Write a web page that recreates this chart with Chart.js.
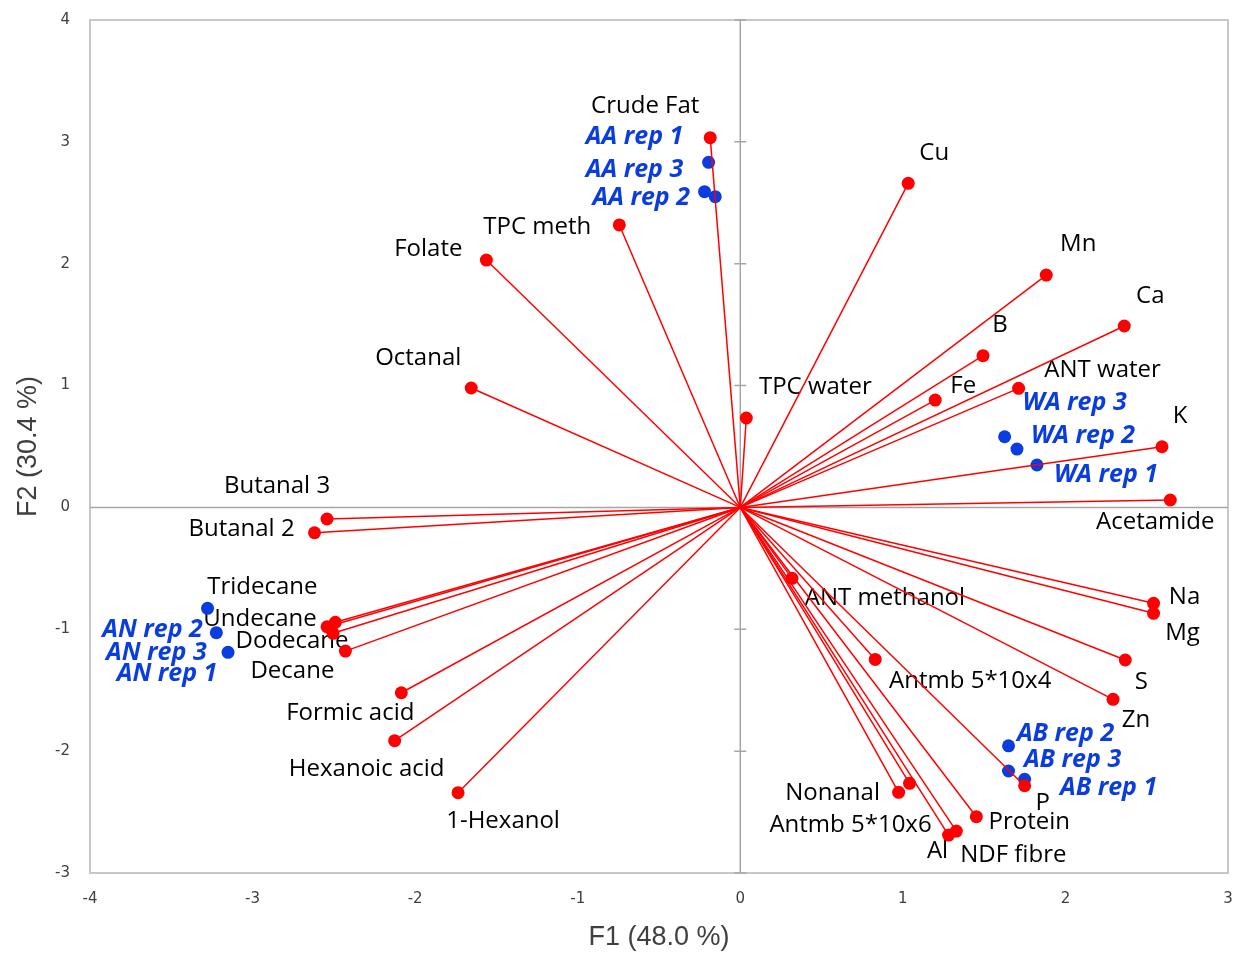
<!DOCTYPE html>
<html>
<head>
<meta charset="utf-8">
<script src="https://cdn.jsdelivr.net/npm/chart.js@4.4.1/dist/chart.umd.min.js"></script>
<style>
  html, body { margin: 0; padding: 0; background: #fff; }
  #wrap { width: 1236px; height: 954px; }
</style>
</head>
<body>
<div id="wrap"><canvas id="biplot" width="1236" height="954"></canvas></div>
<script>
// variables (red vectors)
const varNames = ['Crude Fat', 'Cu', 'TPC meth', 'Folate', 'Mn', 'Ca', 'B', 'Octanal', 'ANT water', 'Fe',
  'TPC water', 'K', 'Acetamide', 'Butanal 3', 'Butanal 2', 'Tridecane', 'Undecane', 'Dodecane', 'Decane',
  'ANT methanol', 'Na', 'Mg', 'S', 'Zn', 'Antmb 5*10x4', 'Formic acid', 'Hexanoic acid', '1-Hexanol',
  'P', 'Nonanal', 'Antmb 5*10x6', 'Protein', 'Al', 'NDF fibre'];
const varF1 = [-0.185, 1.033, -0.744, -1.562, 1.882, 2.362, 1.493, -1.655, 1.712, 1.199,
  0.037, 2.594, 2.645, -2.542, -2.619, -2.491, -2.542, -2.505, -2.429,
  0.318, 2.542, 2.542, 2.368, 2.293, 0.830, -2.085, -2.126, -1.736,
  1.749, 0.974, 1.041, 1.452, 1.281, 1.329];
const varF2 = [3.034, 2.660, 2.318, 2.030, 1.907, 1.489, 1.245, 0.980, 0.977, 0.881,
  0.734, 0.498, 0.061, -0.095, -0.208, -0.943, -0.979, -1.033, -1.179,
  -0.582, -0.787, -0.869, -1.252, -1.575, -1.247, -1.521, -1.914, -2.341,
  -2.284, -2.338, -2.264, -2.538, -2.689, -2.656];

// observations (blue)
const obsNames = ['AA rep 1', 'AA rep 3', 'AA rep 2', 'WA rep 3', 'WA rep 2', 'WA rep 1',
  'AN rep 2', 'AN rep 3', 'AN rep 1', 'AB rep 2', 'AB rep 3', 'AB rep 1'];
const obsF1 = [-0.195, -0.220, -0.154, 1.626, 1.702, 1.825, -3.277, -3.223, -3.151, 1.650, 1.650, 1.749];
const obsF2 = [2.832, 2.591, 2.550, 0.580, 0.479, 0.348, -0.828, -1.028, -1.189, -1.956, -2.163, -2.231];

const xTicks = [-4, -3, -2, -1, 0, 1, 2, 3];
const yTicks = [-3, -2, -1, 0, 1, 2, 3, 4];

// label placement (pixel offset of label centre from its point)
const varLabelOffsets = [[-65,-32],[26,-30],[-82,2],[-58,-11],[32,-31],[26,-30],[17,-31],[-53,-30],[84,-18],[28,-14],
  [69,-31],[18,-31],[-15,22],[-50,-33],[-73,-4],[-73,-35],[-67,-8],[-41,8],[-53,20],
  [93,20],[31,-6],[29,20],[16,22],[23,21],[95,22],[-51,20],[-28,28],[45,28],
  [18,17],[-66,1],[-59,42],[53,5],[-11,16],[57,24]];
const obsLabelOffsets = [[-74,-25],[-70,-22],[-74,1],[70,-34],[66,-13],[69,10],
  [-55,22],[-60,20],[-61,22],[57,-12],[64,-11],[84,9]];

const RED = '#ff0000';
const BLUE = '#0a3de0';

const vectorSets = varNames.map((n, i) => ({
  label: n,
  data: [{ x: 0, y: 0 }, { x: varF1[i], y: varF2[i] }],
  showLine: true,
  borderColor: RED,
  borderWidth: 1.5,
  pointRadius: 0,
  pointHoverRadius: 0
}));

const redPoints = {
  label: 'variables',
  data: varNames.map((n, i) => ({ x: varF1[i], y: varF2[i] })),
  backgroundColor: RED,
  borderWidth: 0,
  pointRadius: 6.5
};
const bluePoints = {
  label: 'observations',
  data: obsNames.map((n, i) => ({ x: obsF1[i], y: obsF2[i] })),
  backgroundColor: BLUE,
  borderWidth: 0,
  pointRadius: 6.5
};

const biplotDecor = {
  id: 'biplotDecor',
  beforeDatasetsDraw(chart) {
    const { ctx, chartArea: a, scales: { x, y } } = chart;
    ctx.save();
    // frame
    ctx.strokeStyle = '#c8c8c8';
    ctx.lineWidth = 2;
    ctx.strokeRect(a.left, a.top, a.right - a.left, a.bottom - a.top);
    // zero axes, tick marks only on the vertical one
    const x0 = x.getPixelForValue(0), y0 = y.getPixelForValue(0);
    ctx.strokeStyle = '#a6a6a6';
    ctx.lineWidth = 1.5;
    ctx.beginPath();
    ctx.moveTo(x0, a.top); ctx.lineTo(x0, a.bottom);
    ctx.moveTo(a.left, y0); ctx.lineTo(a.right, y0);
    yTicks.forEach(v => { const py = y.getPixelForValue(v); ctx.moveTo(x0 - 6, py); ctx.lineTo(x0 + 6, py); });
    ctx.stroke();

    // labels
    ctx.textAlign = 'center';
    ctx.textBaseline = 'middle';
    const nv = varNames.length;
    const redMeta = chart.getDatasetMeta(nv);
    const blueMeta = chart.getDatasetMeta(nv + 1);
    ctx.font = '24px "Open Sans"';
    ctx.fillStyle = '#000';
    varNames.forEach((n, i) => {
      const p = redMeta.data[i];
      ctx.fillText(n, p.x + varLabelOffsets[i][0], p.y + varLabelOffsets[i][1]);
    });
    ctx.font = 'italic bold 25px "Open Sans"';
    ctx.fillStyle = BLUE;
    obsNames.forEach((n, i) => {
      const p = blueMeta.data[i];
      ctx.fillText(n, p.x + obsLabelOffsets[i][0], p.y + obsLabelOffsets[i][1]);
    });
    ctx.restore();
  }
};

const tickFont = { family: 'DejaVu Sans', size: 15 };

new Chart(document.getElementById('biplot'), {
  type: 'scatter',
  plugins: [biplotDecor],
  data: { datasets: [...vectorSets, redPoints, bluePoints] },
  options: {
    responsive: false,
    animation: false,
    layout: { padding: { top: 20, right: 8, left: 0, bottom: 0 } },
    plugins: { legend: { display: false }, tooltip: { enabled: false } },
    scales: {
      x: {
        min: -4, max: 3,
        afterBuildTicks: s => { s.ticks = xTicks.map(v => ({ value: v })); },
        ticks: { padding: 17, color: '#404040', font: tickFont },
        grid: { display: false, drawTicks: false },
        border: { display: false },
        title: { display: true, text: 'F1 (48.0 %)', color: '#404040',
          font: { family: 'Liberation Sans', size: 27 }, padding: { top: 0, bottom: 0 } },
        afterFit: s => { s.height = 81; s.paddingLeft = 0; s.paddingRight = 0; }
      },
      y: {
        min: -3, max: 4,
        afterBuildTicks: s => { s.ticks = yTicks.map(v => ({ value: v })); },
        ticks: { padding: 20, color: '#404040', font: tickFont },
        grid: { display: false, drawTicks: false },
        border: { display: false },
        title: { display: true, text: 'F2 (30.4 %)', color: '#404040',
          font: { family: 'Liberation Sans', size: 27 }, padding: { top: 12, bottom: 0 } },
        afterFit: s => { s.width = 90; s.paddingTop = 0; s.paddingBottom = 0; }
      }
    }
  }
});
</script>
</body>
</html>
